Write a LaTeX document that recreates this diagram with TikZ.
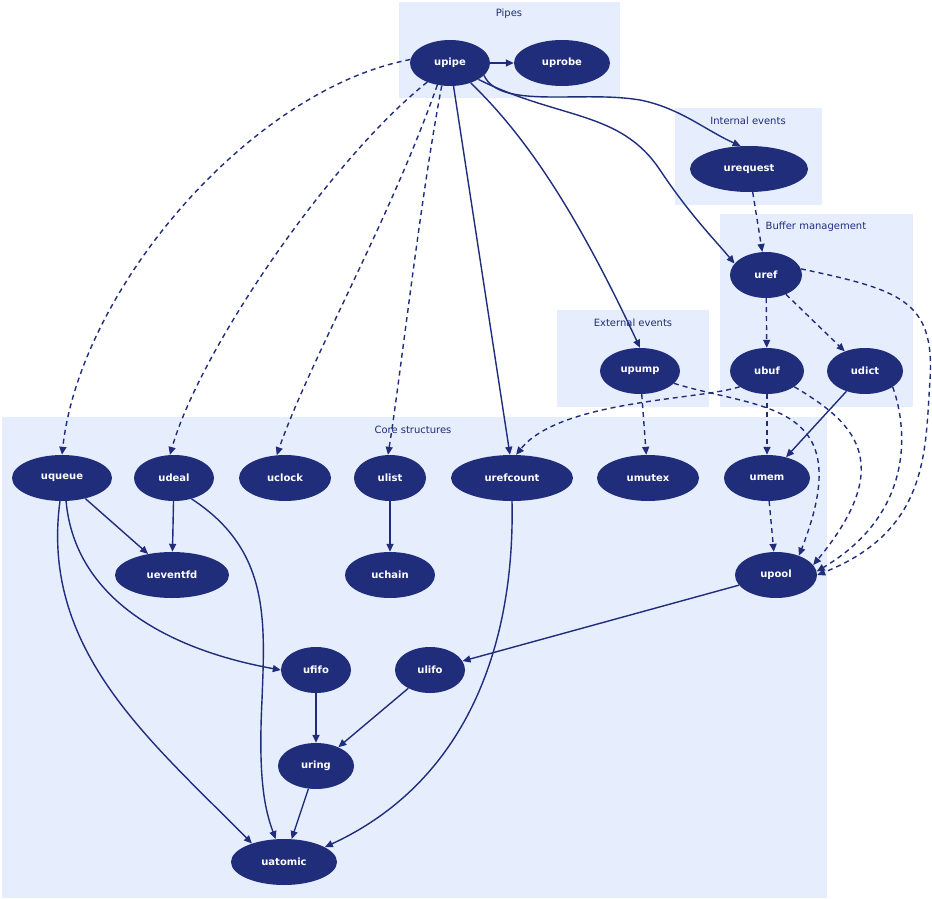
\documentclass[tikz,border=0pt]{standalone}
\usepackage{fontspec}
\setmainfont{DejaVu Sans}
\usetikzlibrary{shapes.geometric,arrows.meta}
\definecolor{nb}{HTML}{1F2D7B}
\definecolor{cl}{HTML}{E6EEFD}
\begin{document}
\begin{tikzpicture}[x=1pt,y=-1pt,
 n/.style={ellipse,fill=nb,text=white,font=\bfseries\fontsize{10}{12}\selectfont,minimum height=46pt,inner sep=0pt},
 e/.style={draw=nb,line width=1.4pt,-{Triangle[length=8pt,width=7pt]}},
 d/.style={e,dash pattern=on 5pt off 4pt},
 cl/.style={fill=cl},
 lab/.style={text=nb,font=\fontsize{10}{12}\selectfont}]
\useasboundingbox (0,0) rectangle (932,899);
\fill[white] (0,0) rectangle (932,899);
\fill[cl] (399,2) rectangle (620,98);
\fill[cl] (675,108) rectangle (822,205);
\fill[cl] (720,214) rectangle (913,407);
\fill[cl] (557,310) rectangle (709,407);
\fill[cl] (2,417) rectangle (827,898);
\node[lab] (lp) at (509,14) {Pipes};
\node[lab] (li) at (748,121) {Internal events};
\node[lab] (lb) at (816,227) {Buffer management};
\node[lab] (le) at (633,323) {External events};
\node[lab] (lc) at (413,430) {Core structures};
\node[n,minimum width=80pt] (upipe) at (450,63) {upipe};
\node[n,minimum width=96pt] (uprobe) at (562,63) {uprobe};
\node[n,minimum width=118pt] (urequest) at (749,169) {urequest};
\node[n,minimum width=72pt] (uref) at (766,275) {uref};
\node[n,minimum width=74pt] (ubuf) at (767,371) {ubuf};
\node[n,minimum width=76pt] (udict) at (865,371) {udict};
\node[n,minimum width=80pt] (upump) at (640,371) {upump};
\node[n,minimum width=100pt] (uqueue) at (62,478) {uqueue};
\node[n,minimum width=80pt] (udeal) at (174,478) {udeal};
\node[n,minimum width=92pt] (uclock) at (285,478) {uclock};
\node[n,minimum width=72pt] (ulist) at (390,478) {ulist};
\node[n,minimum width=122pt] (urefcount) at (512,478) {urefcount};
\node[n,minimum width=102pt] (umutex) at (648,478) {umutex};
\node[n,minimum width=86pt] (umem) at (767,478) {umem};
\node[n,minimum width=114pt] (ueventfd) at (172,575) {ueventfd};
\node[n,minimum width=90pt] (uchain) at (390,575) {uchain};
\node[n,minimum width=82pt] (upool) at (776,575) {upool};
\node[n,minimum width=70pt] (ufifo) at (316,670) {ufifo};
\node[n,minimum width=70pt] (ulifo) at (430,670) {ulifo};
\node[n,minimum width=76pt] (uring) at (316,766) {uring};
\node[n,minimum width=106pt] (uatomic) at (284,862) {uatomic};
\draw[e] (upipe) -- (uprobe);
\draw[e] (upipe.-20) .. controls (500,110) and (580,90) .. (640,100) .. controls (680,108) and (705,130) .. (urequest.110);
\draw[e] (upipe.-30) .. controls (560,120) and (620,110) .. (660,170) .. controls (690,215) and (715,240) .. (uref.160);
\draw[e] (upipe) .. controls (530,140) and (580,220) .. (upump.90);
\draw[e] (upipe) -- (urefcount.95);
\draw[d] (upipe.-110) .. controls (420,200) and (400,380) .. (ulist.95);
\draw[d] (upipe.-120) .. controls (390,220) and (310,360) .. (uclock.110);
\draw[d] (upipe.-140) .. controls (330,160) and (200,350) .. (udeal.100);
\draw[d] (upipe.175) .. controls (250,90) and (80,290) .. (uqueue.90);
\draw[d] (urequest) -- (uref);
\draw[d] (uref) -- (ubuf);
\draw[d] (uref) -- (udict);
\draw[d] (uref.10) .. controls (900,290) and (935,300) .. (930,380) .. controls (925,450) and (930,530) .. (upool.0);
\draw[d] (ubuf.-150) .. controls (700,400) and (560,400) .. (urefcount.80);
\draw[d] (ubuf) -- (umem);
\draw[d] (ubuf.-30) .. controls (850,420) and (900,460) .. (upool.15);
\draw[e] (udict) -- (umem);
\draw[d] (udict.-30) .. controls (905,420) and (920,510) .. (upool.5);
\draw[d] (upump) -- (umutex);
\draw[d] (upump.-20) .. controls (760,410) and (860,400) .. (upool.40);
\draw[d] (umem) -- (upool);
\draw[e] (upool) -- (ulifo);
\draw[e] (uqueue) -- (ueventfd);
\draw[e] (uqueue.-80) .. controls (75,600) and (170,650) .. (ufifo.180);
\draw[e] (uqueue.-95) .. controls (40,650) and (150,740) .. (uatomic.150);
\draw[e] (udeal) -- (ueventfd);
\draw[e] (udeal.-50) .. controls (270,550) and (265,620) .. (262,700) .. controls (258,780) and (265,810) .. (uatomic.110);
\draw[e] (ulist) -- (uchain);
\draw[e] (urefcount.-90) .. controls (515,640) and (470,780) .. (uatomic.20);
\draw[e] (ufifo) -- (uring);
\draw[e] (ulifo) -- (uring);
\draw[e] (uring) -- (uatomic);
\end{tikzpicture}
\end{document}
